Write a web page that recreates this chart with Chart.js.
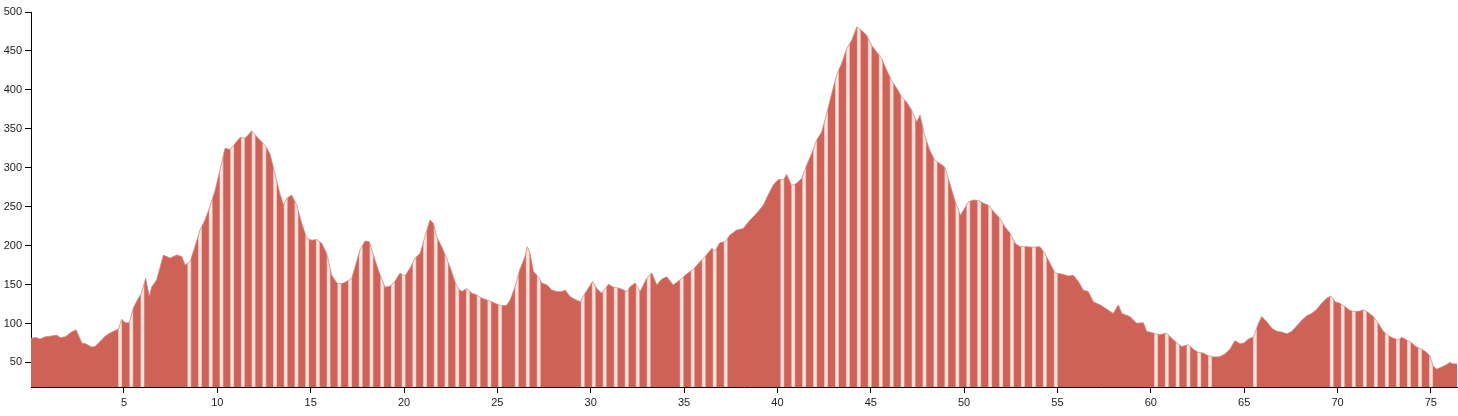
<!DOCTYPE html>
<html><head><meta charset="utf-8">
<script src="https://cdn.jsdelivr.net/npm/chart.js@4"></script>
<style>html,body{margin:0;padding:0;background:#fff}#wrap{width:1458px;height:416px;position:relative}</style>
</head><body><div id="wrap"><canvas id="c"></canvas></div>
<script>
// distance along route (km)
const distanceKm = [
0.02,0.3,0.5,0.8,1.1,1.4,1.6,1.86,2.15,2.43,
2.6,2.74,2.95,3.27,3.45,3.72,4.0,4.35,4.7,4.88,
5.06,5.29,5.5,5.77,5.94,6.16,6.36,6.48,6.75,7.11,
7.47,7.83,8.1,8.27,8.54,8.8,9.07,9.34,9.6,9.88,
10.14,10.41,10.68,10.95,11.22,11.5,11.84,12.2,12.55,12.82,
13.08,13.35,13.55,13.72,13.98,14.26,14.52,14.79,15.06,15.32,
15.59,15.86,16.13,16.4,16.66,16.93,17.2,17.38,17.64,17.91,
18.14,18.36,18.62,18.98,19.24,19.51,19.78,20.05,20.32,20.59,
20.86,21.12,21.39,21.57,21.75,22.02,22.28,22.55,22.82,23.09,
23.36,23.63,23.89,24.16,24.43,24.7,24.97,25.23,25.5,25.68,
25.94,26.2,26.48,26.6,26.75,26.93,27.2,27.38,27.65,27.91,
28.18,28.45,28.63,28.89,29.16,29.43,29.7,30.1,30.33,30.59,
30.95,31.22,31.58,31.94,32.1,32.38,32.64,33.0,33.27,33.54,
33.8,34.07,34.42,34.78,35.14,35.5,35.86,36.2,36.49,36.65,
36.92,37.2,37.46,37.82,38.17,38.5,38.89,39.24,39.5,39.78,
40.05,40.32,40.5,40.76,41.03,41.3,41.57,41.84,42.1,42.37,
42.64,42.91,43.17,43.44,43.71,43.98,44.25,44.51,44.78,45.05,
45.32,45.59,45.86,46.12,46.39,46.66,46.93,47.19,47.46,47.64,
47.88,48.15,48.42,48.69,48.96,49.23,49.5,49.8,49.97,50.24,
50.5,50.77,51.04,51.3,51.66,51.92,52.19,52.46,52.73,53.0,
53.35,53.7,54.06,54.33,54.6,54.87,55.22,55.58,55.85,56.12,
56.38,56.65,56.92,57.28,57.63,57.99,58.26,58.45,58.88,59.24,
59.6,59.78,60.13,60.49,60.85,61.12,61.4,61.66,62.01,62.28,
62.54,62.81,63.08,63.35,63.7,63.97,64.24,64.5,64.78,64.99,
65.23,65.5,65.77,65.94,66.2,66.48,66.75,67.0,67.29,67.55,
67.82,68.08,68.35,68.62,68.9,69.15,69.42,69.65,69.87,70.13,
70.4,70.67,70.94,71.2,71.38,71.65,71.92,72.18,72.45,72.72,
72.99,73.26,73.44,73.7,73.97,74.24,74.51,74.77,74.95,75.13,
75.31,75.56,75.83,76.0,76.2,76.4
];
// elevation (m)
const elevationM = [
81,82,80,83,84,85,82,83,88.5,92,
83,75,74,69.7,70.5,77,84,89,92.8,105.6,
101,101,120,132.5,139,158,134.6,147,156,188,
184,188,186,175,179.5,198.7,220,233,250,271,
297,325,323.6,331,339,338,347.4,337.7,329,318,
293,267,252,260.8,265,252,228.7,209.5,207,208,
203,190,162,152,151,154,158,173,194.5,206,
205,188,169,146.7,148,154,164.6,161,171,184,
190,211.5,233,228.7,211.5,198.7,184,166.7,147.4,141,
145,139,136.8,132.6,130.4,128,125,122.7,123.6,130,
147,169,186,198.7,190,166.7,160,152,149.6,143,
141,141,143,134.6,131,128,139,154,145,139,
150.5,146.7,145,141,147,152,141,158,165,149.6,
157,160,149.6,156,163.7,169.7,179.5,188,196.6,193,
203.8,205,213.7,220,222,232,241.5,252,265,278,
285,284.6,291.5,277,280,286.4,303.5,318.5,335.5,346,
369.7,395.4,419,434,453,463.7,480.8,476.5,470,457,
448.7,440,425,412,402,391,384,374,359,367.6,
342,323,310,305.6,301,280,258.6,239,245.8,256.4,
258.6,258,254.4,252,241.5,235,224,216,203,198.7,
198.7,198,198.7,190,177.4,165,163.7,161,162,154,
143,141,128,124,118.5,113,124,113,109,100.5,
101,90,87.7,85.5,87.7,81,75,70.5,72.7,67,
63,62,58.6,57,57.5,61,67,78,74,75,
80,83,100.5,109,102.6,94,90,89,86.8,90,
97,104,110,113,118.5,126,132.5,135.5,128,126,
121.8,116.7,115.4,116,117.6,114,109,100.5,90,84.6,
81,79,82.5,79,75,69.7,67,63,58.6,45,
41.5,44,47,50,48.3,48
];
const yTickValues = [50,100,150,200,250,300,350,400,450,500];
const xTickValues = [5,10,15,20,25,30,35,40,45,50,55,60,65,70,75];

// styling
const FILL = 'rgb(206,98,86)';
const STRIPE = 'rgb(252,228,224)';
const STRIPE_EDGE = 'rgb(236,168,160)';
const LINE = 'rgb(206,140,132)';
// texture bands (rendering artefact of the original): [fromKm, toKm, anchorKm, periodKm]
const stripeBands = [
  [4.7, 6.5, 4.79, 0.6],
  [8.3, 25.6, 13.09, 0.574],
  [25.6, 27.6, 26.04, 0.589],
  [29.3, 33.4, 26.04, 0.589],
  [34.6, 37.4, 26.04, 0.589],
  [40.0, 55.1, 40.26, 0.586],
  [60.0, 63.5, 60.28, 0.578],
  [65.4, 65.8, 65.58, 1],
  [69.4, 75.3, 69.69, 0.591]
];

function stripeFill(ctx){
  const chart = ctx.chart;
  const xs = chart.scales && chart.scales.x;
  if (!xs || !chart.chartArea) return FILL;
  const c = document.createElement('canvas');
  c.width = chart.width; c.height = 1;
  const g = c.getContext('2d');
  g.fillStyle = FILL; g.fillRect(0, 0, c.width, 1);
  for (const [a, b, anchor, period] of stripeBands) {
    const k0 = Math.ceil((a - anchor) / period);
    for (let k = k0; anchor + k * period <= b; k++) {
      const px = xs.getPixelForValue(anchor + k * period);
      g.fillStyle = STRIPE_EDGE; g.fillRect(px - 2.0, 0, 4.0, 1);
      g.fillStyle = STRIPE; g.fillRect(px - 1.4, 0, 2.8, 1);
    }
  }
  return g.createPattern(c, 'repeat');
}

const points = distanceKm.map((d, i) => ({x: d, y: elevationM[i]}));
const tickFont = {family: '"Liberation Sans", Arial, sans-serif', size: 11};

new Chart(document.getElementById('c'), {
  type: 'line',
  data: { datasets: [{
    data: points,
    fill: 'start',
    backgroundColor: stripeFill,
    borderColor: LINE,
    borderWidth: 0.8,
    pointRadius: 0,
    tension: 0
  }]},
  options: {
    responsive: true,
    maintainAspectRatio: false,
    animation: false,
    events: [],
    layout: { padding: { top: 12, right: 1, left: 0, bottom: 0 } },
    plugins: { legend: { display: false }, tooltip: { enabled: false } },
    scales: {
      x: {
        type: 'linear',
        min: distanceKm[0],
        max: distanceKm[distanceKm.length - 1],
        afterBuildTicks: s => { s.ticks = xTickValues.map(v => ({value: v})); },
        afterFit: s => { s.height = 29; },
        grid: { drawOnChartArea: false, drawTicks: true, tickLength: 6, color: '#000' },
        border: { display: true, color: '#000', width: 1 },
        ticks: { color: '#222', font: tickFont, padding: 3, maxRotation: 0, autoSkip: false }
      },
      y: {
        type: 'linear',
        min: 18.5,
        max: 500,
        afterBuildTicks: s => { s.ticks = yTickValues.map(v => ({value: v})); },
        afterFit: s => { s.width = 31; },
        grid: { drawOnChartArea: false, drawTicks: true, tickLength: 6, color: '#000' },
        border: { display: true, color: '#000', width: 1 },
        ticks: { color: '#222', font: tickFont, padding: 3 }
      }
    }
  }
});
</script>
</body></html>
